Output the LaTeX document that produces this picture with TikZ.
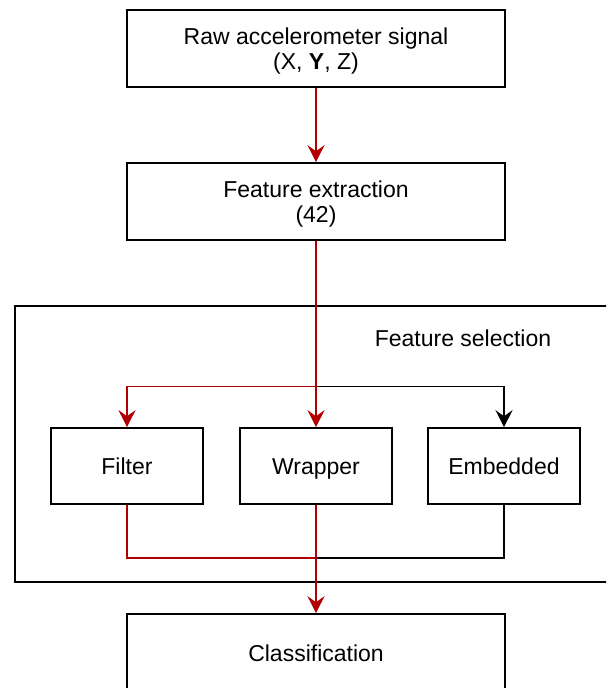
\documentclass[tikz,border=0pt]{standalone}
\usepackage{fontspec}
\setmainfont{Liberation Sans}
\usetikzlibrary{arrows.meta}
\definecolor{dred}{RGB}{178,0,0}
\tikzset{
  txt/.style={align=center, font=\fontsize{23}{25.5}\selectfont, inner sep=0pt},
  box/.style={txt, draw=black, line width=1.6pt, fill=white},
  oneline/.style={text height=20pt, text depth=3pt},
  wide/.style={box, minimum width=378pt, minimum height=77pt},
  small/.style={box, oneline, minimum width=152pt, minimum height=76pt},
  tip/.style={-{Stealth[length=17pt, width=17pt, inset=6pt]}},
  redln/.style={draw=dred, line width=1.6pt},
  blkln/.style={draw=black, line width=1.6pt},
}
\begin{document}
\begin{tikzpicture}[x=1pt, y=-1pt]
\useasboundingbox (0,0) rectangle (606,688);
\clip (0,0) rectangle (606,688);
% outer group
\node[draw=black, line width=1.6pt, minimum width=620pt, minimum height=276pt, anchor=north west, inner sep=0pt] (grp) at (14,305) {};
\node[txt, oneline] (grplbl) at (463,338) {Feature selection};
% boxes
\node[wide] (raw) at (316,48.5) {};
\node[txt] (rawtxt) at (316,51) {Raw accelerometer signal\\(X, \textbf{Y}, Z)};
\node[wide] (fe) at (316,201.5) {};
\node[txt] (fetxt) at (316,204) {Feature extraction\\(42)};
\node[small] (filt) at (127,466) {Filter};
\node[small] (wrap) at (316,466) {Wrapper};
\node[small] (emb) at (504,466) {Embedded};
\node[wide, oneline] (cls) at (316,652.5) {Classification};
\coordinate (sp) at (316,386.5);
\coordinate (mg) at (316,558);
% black connectors
\draw[blkln, tip] (fe.south) -- (sp) -| (emb.north);
\draw[blkln] (emb.south) |- (mg);
% red connectors
\draw[redln, tip] (raw.south) -- (fe.north);
\draw[redln, tip] (fe.south) -- (sp) -| (filt.north);
\draw[redln, tip] (fe.south) -- (wrap.north);
\draw[redln] (filt.south) |- (mg);
\draw[redln, tip] (wrap.south) -- (cls.north);
\end{tikzpicture}
\end{document}
